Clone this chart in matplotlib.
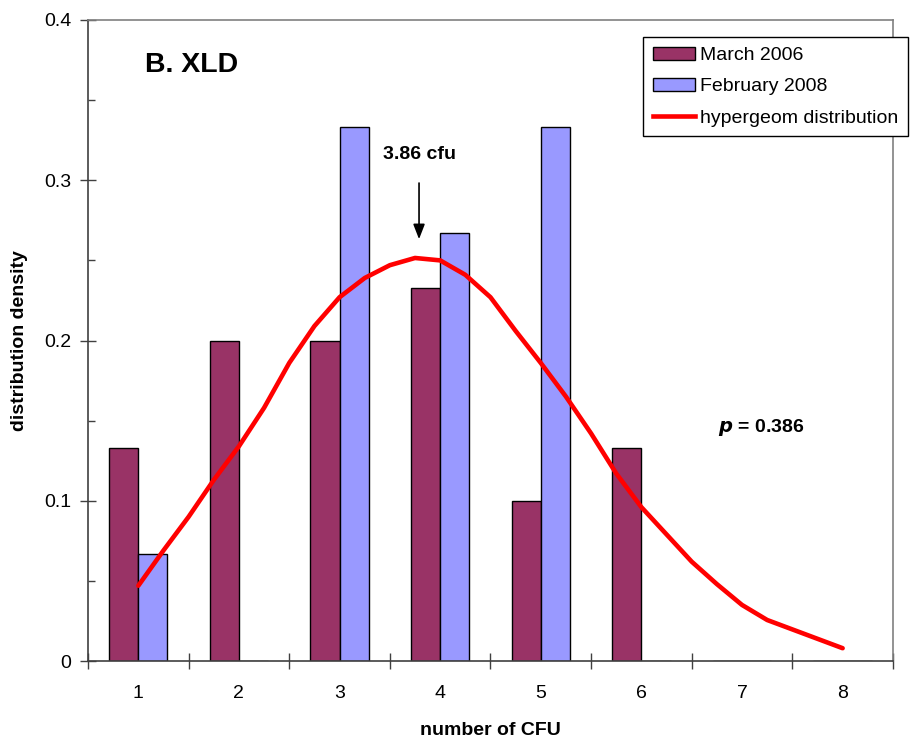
import numpy as np
import matplotlib.pyplot as plt
from matplotlib.patches import Patch
from matplotlib.lines import Line2D

plt.rcParams['font.family'] = ['Liberation Sans', 'DejaVu Sans']

# observed frequencies
cfu = [1, 2, 3, 4, 5, 6, 7, 8]
march_2006 = [0.133, 0.200, 0.200, 0.233, 0.100, 0.133, 0.0, 0.0]
feb_2008 = [0.067, 0.0, 0.333, 0.267, 0.333, 0.0, 0.0, 0.0]

# hypergeometric curve
hyp_x = [1, 1.25, 1.5, 1.75, 2, 2.25, 2.5, 2.75, 3, 3.25, 3.5, 3.75, 4,
         4.25, 4.5, 4.75, 5, 5.25, 5.5, 5.75, 6, 6.25, 6.5, 6.75, 7, 7.25, 8]
hyp_y = [0.047, 0.069, 0.090, 0.113, 0.134, 0.158, 0.186, 0.209, 0.227,
         0.239, 0.247, 0.2515, 0.250, 0.241, 0.227, 0.206, 0.186, 0.165,
         0.142, 0.117, 0.096, 0.079, 0.062, 0.048, 0.035, 0.0256, 0.008]

mean_cfu = 3.79
p_value = 0.386

fig = plt.figure(figsize=(9.12, 7.38), dpi=100)
ax = fig.add_axes([0.0965, 0.1043, 0.8826, 0.8686])

x = np.array(cfu, dtype=float)
w = 0.29
ax.bar(x - w, march_2006, width=w, align='edge', color='#993366',
       edgecolor='black', linewidth=1.0, zorder=2)
ax.bar(x, feb_2008, width=w, align='edge', color='#9999FF',
       edgecolor='black', linewidth=1.0, zorder=2)
ax.plot(hyp_x, hyp_y, color='#FF0000', lw=3.3, solid_capstyle='round', zorder=3)

ax.set_xlim(0.5, 8.5)
ax.set_ylim(0, 0.4)
ax.set_xticks(np.arange(0.5, 9.0, 1.0))
ax.set_xticklabels([])
ax.set_xticks(cfu, minor=True)
ax.set_xticklabels([str(c) for c in cfu], minor=True)
ax.tick_params(axis='x', which='major', direction='inout', length=12, width=1,
               color='#404040')
ax.tick_params(axis='x', which='minor', length=0, pad=17, labelsize=14)
ax.set_yticks([0, 0.1, 0.2, 0.3, 0.4])
ax.set_yticklabels(['0', '0.1', '0.2', '0.3', '0.4'])
ax.set_yticks([0.05, 0.15, 0.25, 0.35], minor=True)
ax.tick_params(axis='y', which='major', direction='inout', length=12, width=1,
               labelsize=14, color='#404040', pad=6)
ax.tick_params(axis='y', which='minor', direction='in', length=5, width=1,
               color='#404040')

for s in ['left', 'bottom']:
    ax.spines[s].set_color('#404040')
    ax.spines[s].set_linewidth(1.2)
for s in ['top', 'right']:
    ax.spines[s].set_color('#808080')
    ax.spines[s].set_linewidth(1.2)

ax.set_xlabel('number of CFU', fontsize=14, fontweight='bold', labelpad=15)
ax.set_ylabel('distribution density', fontsize=14, fontweight='bold')
ax.yaxis.set_label_coords(-0.075, 0.5)

ax.text(1.07, 0.372, 'B. XLD', fontsize=20.5, fontweight='bold', va='center', ha='left')
ax.annotate('', xy=(mean_cfu, 0.2615), xytext=(mean_cfu, 0.300),
            arrowprops=dict(arrowstyle='-|>,head_length=0.9,head_width=0.35',
                            color='black', lw=1.2))
ax.text(mean_cfu, 0.316, '3.86 cfu', fontsize=14, fontweight='bold',
        ha='center', va='center')
ax.text(6.76, 0.146, r'$\bfit{p}$ = ' + str(p_value), fontsize=14,
        fontweight='bold', ha='left', va='center')

handles = [Patch(facecolor='#993366', edgecolor='black', linewidth=1.0),
           Patch(facecolor='#9999FF', edgecolor='black', linewidth=1.0),
           Line2D([], [], color='#FF0000', lw=3.3)]
labels = ['March 2006', 'February 2008', 'hypergeom distribution']
leg = ax.legend(handles, labels, loc='upper left', bbox_to_anchor=(0.705, 0.950),
                bbox_transform=fig.transFigure, fontsize=14, frameon=True,
                fancybox=False, framealpha=1, edgecolor='black',
                handlelength=2.2, handleheight=0.65, handletextpad=0.25,
                labelspacing=0.72, borderpad=0.5, borderaxespad=0)
leg.get_frame().set_linewidth(1.0)

fig.savefig('out.png', dpi=100)
